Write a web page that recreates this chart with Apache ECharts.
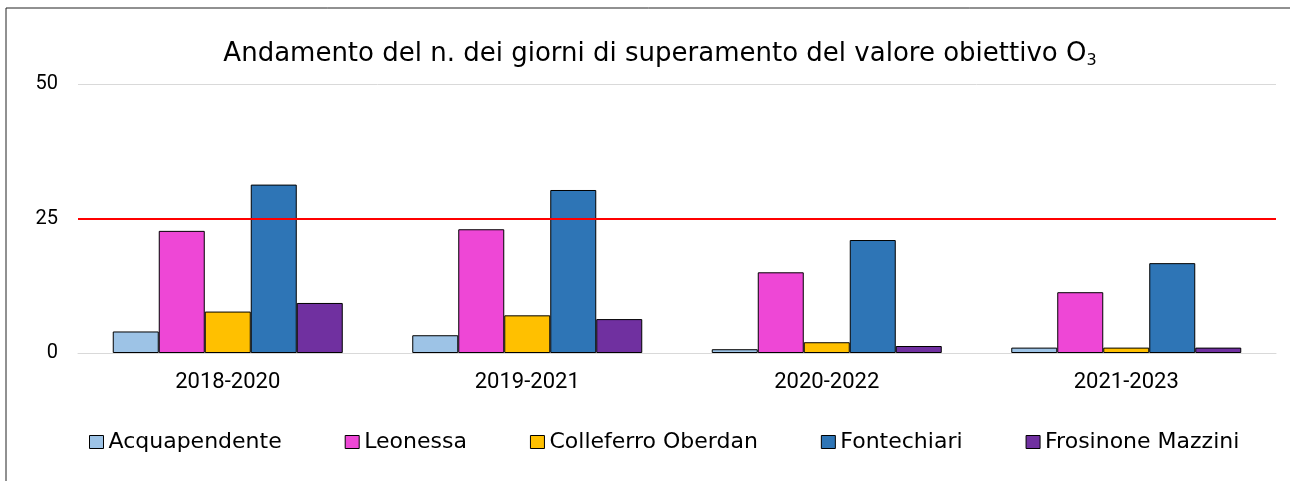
<!DOCTYPE html>
<html>
<head>
<meta charset="utf-8">
<script src="https://cdn.jsdelivr.net/npm/echarts@6/dist/echarts.min.js"></script>
<style>
  html, body { margin: 0; padding: 0; background: #fff; }
  #main { width: 1290px; height: 481px; }
</style>
</head>
<body>
<div id="main"></div>
<script>
// periodi (medie triennali)
var categories = ['2018-2020', '2019-2021', '2020-2022', '2021-2023'];
var stations = ['Acquapendente', 'Leonessa', 'Colleferro Oberdan', 'Fontechiari', 'Frosinone Mazzini'];
var acquapendente = [4.0, 3.3, 0.7, 1.0];
var leonessa = [22.7, 23.0, 15.0, 11.3];
var colleferro = [7.7, 7.0, 2.0, 1.0];
var fontechiari = [31.3, 30.3, 21.0, 16.7];
var frosinone = [9.3, 6.3, 1.3, 1.0];
var yTicks = [0, 25, 50];
var target = 25; // valore obiettivo

var colors = ['#9DC3E6', '#EE47D6', '#FFC000', '#2E75B6', '#7030A0'];
var values = [acquapendente, leonessa, colleferro, fontechiari, frosinone];
var font = 'DejaVu Sans';
var axisFont = 'Roboto';

var chart = echarts.init(document.getElementById('main'));

var series = stations.map(function (name, i) {
  var s = {
    name: name,
    type: 'bar',
    barWidth: 46,
    barGap: '0%',
    data: values[i],
    itemStyle: { color: colors[i], borderColor: '#000', borderWidth: 1 }
  };
  if (i === 0) {
    s.markLine = {
      silent: true,
      symbol: 'none',
      label: { show: false },
      lineStyle: { color: '#FF0000', width: 2, type: 'solid' },
      data: [{ yAxis: target }]
    };
  }
  return s;
});

chart.setOption({
  animation: false,
  color: colors,
  graphic: [{
    type: 'rect',
    shape: { x: 6, y: 8, width: 1300, height: 500 },
    style: { fill: 'none', stroke: '#222', lineWidth: 1 }
  }],
  title: {
    text: 'Andamento del n. dei giorni di superamento del valore obiettivo O{sub|3}',
    left: 655,
    textAlign: 'center',
    top: 34,
    textStyle: {
      fontFamily: font,
      fontSize: 26,
      fontWeight: 'normal',
      color: '#000',
      rich: {
        sub: { fontFamily: font, fontSize: 16, color: '#000', padding: [14, 0, 0, 0] }
      }
    }
  },
  grid: { left: 78, right: 14, top: 84, bottom: 128, containLabel: false },
  legend: {
    left: 84,
    top: 426,
    itemWidth: 14,
    itemHeight: 13,
    itemGap: 63,
    icon: 'rect',
    data: stations,
    itemStyle: { borderColor: '#000', borderWidth: 1 },
    textStyle: { fontFamily: font, fontSize: 22, color: '#000' }
  },
  xAxis: {
    type: 'category',
    data: categories,
    axisTick: { show: false },
    axisLine: { show: true, lineStyle: { color: '#D9D9D9', width: 1 } },
    axisLabel: { fontFamily: axisFont, fontSize: 22, color: '#000', margin: 18 }
  },
  yAxis: {
    type: 'value',
    min: yTicks[0],
    max: yTicks[yTicks.length - 1],
    interval: yTicks[1] - yTicks[0],
    axisLine: { show: false },
    axisTick: { show: false },
    axisLabel: { fontFamily: axisFont, fontSize: 20, color: '#000', margin: 20 },
    splitLine: { lineStyle: { color: '#D9D9D9', width: 1 } }
  },
  series: series
});
</script>
</body>
</html>
